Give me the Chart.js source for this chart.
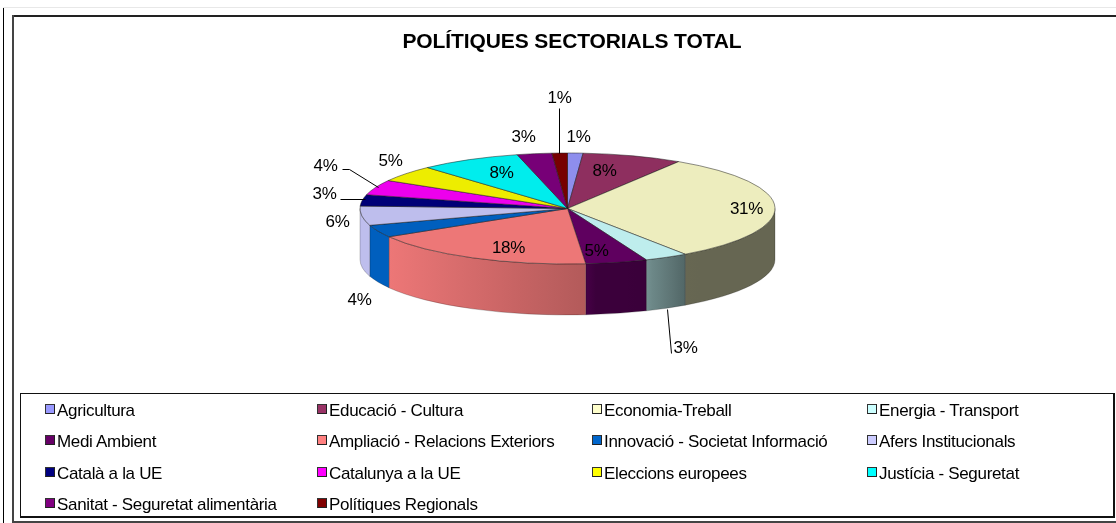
<!DOCTYPE html>
<html lang="ca">
<head>
<meta charset="utf-8">
<title>Polítiques sectorials total</title>
<script src="https://cdn.jsdelivr.net/npm/chart.js@4/dist/chart.umd.min.js"></script>
<style>
html,body{margin:0;padding:0;background:#fff;width:1116px;height:523px;overflow:hidden}
#wrap{position:relative;width:1116px;height:523px;font-family:"Liberation Sans",Arial,sans-serif;color:#000}
canvas{position:absolute;left:0;top:0}
.rule{position:absolute;box-sizing:border-box}
#title{position:absolute;left:272px;width:600px;top:29px;text-align:center;font-weight:bold;font-size:21px;line-height:24px;letter-spacing:-.1px;white-space:nowrap}
#legendBox{position:absolute;left:20px;top:393px;width:1095px;height:125px;box-sizing:border-box;border:1px solid #111;border-right-width:2px;border-bottom-width:2px}
.item{position:absolute;font-size:17px;line-height:20px;letter-spacing:-.32px;white-space:nowrap}
.swatch{position:absolute;width:8px;height:8px;box-sizing:content-box;border:1px solid #333;border-right-color:#222;border-bottom-color:#222}
</style>
</head>
<body>
<div id="wrap">
  <canvas id="c" width="1116" height="523"></canvas>
  <div class="rule" style="left:3px;top:7px;width:1px;height:516px;background:#000"></div>
  <div class="rule" style="left:3px;top:7px;width:1113px;height:1px;background:#e8e8e8"></div>
  <div class="rule" style="left:12px;top:15px;width:1104px;height:2px;background:#222"></div>
  <div class="rule" style="left:12px;top:15px;width:2px;height:508px;background:#444"></div>
  <div class="rule" style="left:12px;top:521px;width:1104px;height:2px;background:#444"></div>
  <div id="title">POLÍTIQUES SECTORIALS TOTAL</div>
  <div id="legendBox"></div>
</div>
<script>
const categories = ["Agricultura","Educació - Cultura","Economia-Treball","Energia - Transport","Medi Ambient","Ampliació - Relacions Exteriors","Innovació - Societat Informació","Afers Institucionals","Català a la UE","Catalunya a la UE","Eleccions europees","Justícia - Seguretat","Sanitat - Seguretat alimentària","Polítiques Regionals"];
const shares = [1.2,7.8,31.4,3.4,4.8,17.9,3.6,5.6,3.3,4.4,4.8,7.9,2.7,1.2];
const legendColors = ["#9999FF","#993366","#FFFFCC","#CCFFFF","#660066","#FF8080","#0066CC","#CCCCFF","#000080","#FF00FF","#FFFF00","#00FFFF","#800080","#800000"];

// Layout of the annotations, in pixels from the pie centre
const labelOffsets = [[11,-71],[37,-37],[179,1],[118,140],[29,43],[-59,40],[-208,92],[-230,14],[-243,-14],[-242,-42],[-177,-47],[-66,-35],[-44,-71],[-8,-110]];
const leaderLines = {3:[[99,100],[103,144]],9:[[-226,-40],[-219,-40],[-190,-22]],8:[[-228,-10],[-203,-10]],13:[[-9,-101],[-9,-56]]};
const legendColumns = [45,317,592,867];
const legendRows = [411,442,474,505];
const TILT = 55.5/207.5, DEPTH = 51;

function rgb(hex){return [1,3,5].map(i=>parseInt(hex.substr(i,2),16));}
function shaded(hex,f){return 'rgb('+rgb(hex).map(v=>Math.round(v*f)).join(',')+')';}
// Brightness of the pie wall as a function of the horizontal position on it (-1 left ... 1 right)
const shadeStops = [[-1,.93],[-.87,.93],[.09,.70],[.1,.58],[.39,.57],[.4,.54],[.57,.40],[1,.40]];
function shadeAt(u){
  for(let i=1;i<shadeStops.length;i++){
    const [a,fa]=shadeStops[i-1],[b,fb]=shadeStops[i];
    if(u<=b) return fa+(fb-fa)*(u-a)/(b-a);
  }
  return .4;
}

const pie3d = {
  id:'pie3d',
  beforeDatasetDraw(chart){
    const ctx=chart.ctx, arcs=chart.getDatasetMeta(0).data;
    const {x:cx,y:cy,outerRadius:r}=arcs[0];
    const ry=r*TILT;
    arcs.forEach((arc,i)=>{
      const a0=Math.max(arc.startAngle,0), a1=Math.min(arc.endAngle,Math.PI);
      if(a1<=a0) return;
      const x0=cx+r*Math.cos(a0), x1=cx+r*Math.cos(a1);
      const g=ctx.createLinearGradient(x1,0,x0,0);
      const n=6;
      for(let k=0;k<=n;k++){
        const u=(x1+(x0-x1)*k/n-cx)/r;
        g.addColorStop(k/n,shaded(legendColors[i],shadeAt(u)));
      }
      ctx.beginPath();
      ctx.ellipse(cx,cy,r,ry,0,a0,a1,false);
      ctx.ellipse(cx,cy+DEPTH,r,ry,0,a1,a0,true);
      ctx.closePath();
      ctx.fillStyle=g;ctx.fill();
      ctx.strokeStyle='rgba(0,0,0,.35)';ctx.lineWidth=.6;ctx.stroke();
    });
    ctx.save();
    ctx.translate(cx,cy);ctx.scale(1,TILT);ctx.translate(-cx,-cy);
  },
  afterDatasetDraw(chart){chart.ctx.restore();},
  afterDraw(chart){
    const ctx=chart.ctx, arc=chart.getDatasetMeta(0).data[0];
    const cx=arc.x, cy=arc.y, total=shares.reduce((a,b)=>a+b,0);
    ctx.save();
    ctx.strokeStyle='#000';ctx.lineWidth=1;
    Object.values(leaderLines).forEach(pts=>{
      ctx.beginPath();
      pts.forEach((p,k)=>ctx[k?'lineTo':'moveTo'](Math.round(cx+p[0])+.5,Math.round(cy+p[1])+.5));
      ctx.stroke();
    });
    ctx.fillStyle='#000';ctx.font='17px "Liberation Sans",Arial,sans-serif';
    ctx.textAlign='center';ctx.textBaseline='middle';
    if('letterSpacing' in ctx) ctx.letterSpacing='-.3px';
    shares.forEach((v,i)=>{
      ctx.fillText(Math.round(v/total*100)+'%',cx+labelOffsets[i][0],cy+labelOffsets[i][1]);
    });
    ctx.restore();
  }
};

new Chart(document.getElementById('c'),{
  type:'pie',
  data:{labels:categories,datasets:[{data:shares,backgroundColor:legendColors.map(c=>shaded(c,.93)),borderColor:'rgba(30,30,30,.8)',borderWidth:1}]},
  options:{
    responsive:false,animation:false,
    layout:{padding:{left:359.5,right:340.5,top:.5,bottom:106.5}},
    plugins:{legend:{display:false},title:{display:false},tooltip:{enabled:false}}
  },
  plugins:[pie3d]
});

// Legend: four columns filled row by row
const wrap=document.getElementById('wrap');
categories.forEach((name,i)=>{
  const col=legendColumns[i%4], row=legendRows[Math.floor(i/4)];
  const s=document.createElement('div');
  s.className='swatch';s.style.left=col+'px';s.style.top=(row-7)+'px';s.style.background=legendColors[i];
  const t=document.createElement('div');
  t.className='item';t.style.left=(col+12)+'px';t.style.top=(row-10)+'px';t.textContent=name;
  wrap.append(s,t);
});
</script>
</body>
</html>
